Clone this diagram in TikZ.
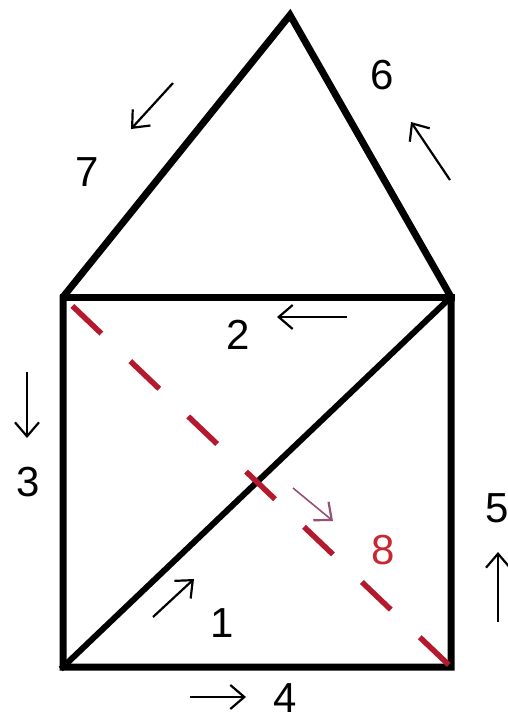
\documentclass[tikz,border=0pt]{standalone}
\usepackage{fontspec}
\setmainfont{Liberation Sans}
\usetikzlibrary{arrows.meta}
\definecolor{dashred}{RGB}{180,25,45}
\definecolor{labred}{RGB}{200,40,50}
\definecolor{arrpurple}{RGB}{150,80,115}
\begin{document}
\begin{tikzpicture}[x=1pt,y=-1pt,
  edge/.style={line width=7pt, line join=miter, line cap=rect},
  lbl/.style={font=\fontsize{42}{42}\selectfont, inner sep=0pt},
  dirarrow/.style={line width=2.2pt, -{Straight Barb[length=14pt,width=24pt,line width=2.2pt]}},
  reddash/.style={line width=5.5pt, draw=dashred, dash pattern=on 40pt off 40pt, dash phase=67pt}]
\useasboundingbox (0,0) rectangle (508,721);
% corners
\coordinate (apex) at (290,15);
\coordinate (tl) at (63,297);
\coordinate (tr) at (451,297);
\coordinate (bl) at (63,667);
\coordinate (br) at (451,667);
% outline
\draw[edge] (tl) -- (apex) -- (tr) -- (br) -- (bl) -- cycle;
\draw[edge] (tl) -- (tr);
\draw[edge, line width=6pt] (bl) -- (tr);
% red dashed diagonal
\draw[reddash] (tl) -- (br);
% labels
\node[lbl] (l1) at (222,623) {1};
\node[lbl] (l2) at (238,335) {2};
\node[lbl] (l3) at (28,482) {3};
\node[lbl] (l4) at (285,698) {4};
\node[lbl] (l5) at (497,508) {5};
\node[lbl] (l6) at (382,75) {6};
\node[lbl] (l7) at (87,172) {7};
\node[lbl, text=labred] (l8) at (383,550) {8};
% direction arrows
\coordinate (a1s) at (153,617); \coordinate (a1e) at (194,579);
\coordinate (a2s) at (347,317); \coordinate (a2e) at (277,317);
\coordinate (a3s) at (27,372);  \coordinate (a3e) at (27,438);
\coordinate (a4s) at (190,697); \coordinate (a4e) at (246,697);
\coordinate (a5s) at (498,622); \coordinate (a5e) at (498,552);
\coordinate (a6s) at (450,180); \coordinate (a6e) at (411,122);
\coordinate (a7s) at (173,83);  \coordinate (a7e) at (131,129);
\coordinate (a8s) at (293,488); \coordinate (a8e) at (333,521);
\draw[dirarrow] (a1s) -- (a1e);
\draw[dirarrow] (a2s) -- (a2e);
\draw[dirarrow] (a3s) -- (a3e);
\draw[dirarrow] (a4s) -- (a4e);
\draw[dirarrow] (a5s) -- (a5e);
\draw[dirarrow] (a6s) -- (a6e);
\draw[dirarrow] (a7s) -- (a7e);
\draw[dirarrow, draw=arrpurple, line width=1.6pt] (a8s) -- (a8e);
\end{tikzpicture}
\end{document}
